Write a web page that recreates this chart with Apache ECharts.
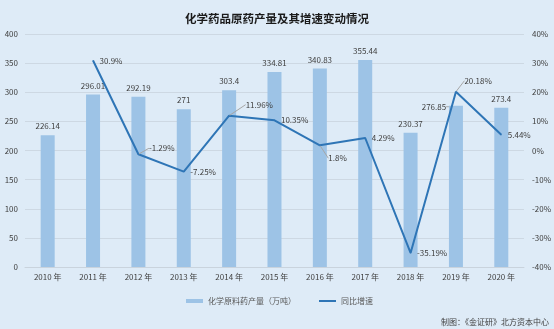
<!DOCTYPE html>
<html><head><meta charset="utf-8">
<script src="https://cdn.jsdelivr.net/npm/echarts@6/dist/echarts.min.js"></script>
<style>html,body{margin:0;padding:0;background:#deebf7;}#c{width:554px;height:329px;}</style>
</head><body><div id="c"></div>
<script>
var categories = ['2010 年','2011 年','2012 年','2013 年','2014 年','2015 年','2016 年','2017 年','2018 年','2019 年','2020 年'];
var output = [226.14, 296.01, 292.19, 271, 303.4, 334.81, 340.83, 355.44, 230.37, 276.85, 273.4];
var growth = [null, 30.9, -1.29, -7.25, 11.96, 10.35, 1.8, 4.29, -35.19, 20.18, 5.44];
var leftTicks = {min: 0, max: 400, interval: 50};
var rightTicks = {min: -40, max: 40, interval: 10};

var FF = 'Noto Sans CJK SC, Noto Sans, sans-serif';
var lineLayout = {2: {dx: 4, dy: -6}, 4: {dx: 10, dy: -11}, 6: {dx: 2, dy: 13}, 9: {dx: 2, dy: -11}};
var barLayout = {9: {dx: -22, dy: 10}};
var leaderLine = {show: true, lineStyle: {color: '#a6a6a6', width: 1}};

var barData = output.map(function (v, i) {
  var d = {value: v};
  if (barLayout[i]) d.labelLine = leaderLine;
  return d;
});
var lineData = growth.map(function (v, i) {
  var d = {value: v};
  if (lineLayout[i]) d.labelLine = leaderLine;
  return d;
});

var chart = echarts.init(document.getElementById('c'));
chart.setOption({
  backgroundColor: '#deebf7',
  animation: false,
  title: {text: '化学药品原药产量及其增速变动情况', left: 'center', top: 8,
    textStyle: {fontSize: 11.5, fontWeight: 'bold', color: '#1a1a1a', fontFamily: FF}},
  grid: {left: 25, right: 30, top: 34, bottom: 62},
  legend: [
    {left: 181, bottom: 19, itemWidth: 17, itemHeight: 4,
      textStyle: {fontSize: 8, color: '#595959', fontFamily: FF},
      data: [{name: '化学原料药产量（万吨）', icon: 'rect'}]},
    {left: 314, bottom: 19, itemWidth: 17, itemHeight: 2,
      textStyle: {fontSize: 8, color: '#595959', fontFamily: FF},
      data: [{name: '同比增速', icon: 'rect'}]}
  ],
  graphic: [{type: 'text', right: 5, bottom: 3,
    style: {text: '制图：《金证研》北方资本中心', fontSize: 8, fill: '#404040', fontFamily: FF}}],
  xAxis: {type: 'category', data: categories,
    axisLine: {lineStyle: {color: '#c9d3dd'}}, axisTick: {show: false},
    axisLabel: {fontSize: 8, color: '#404040', margin: 6, fontFamily: FF}},
  yAxis: [
    {type: 'value', min: leftTicks.min, max: leftTicks.max, interval: leftTicks.interval,
      axisLabel: {fontSize: 8, color: '#404040', margin: 7, fontFamily: FF},
      splitLine: {lineStyle: {color: '#cdd8e3'}}, axisLine: {show: false}, axisTick: {show: false}},
    {type: 'value', min: rightTicks.min, max: rightTicks.max, interval: rightTicks.interval,
      axisLabel: {fontSize: 8, color: '#404040', margin: 8, formatter: '{value}%', fontFamily: FF},
      splitLine: {show: false}, axisLine: {show: false}, axisTick: {show: false}}
  ],
  series: [
    {name: '化学原料药产量（万吨）', type: 'bar', data: barData, barWidth: 14,
      itemStyle: {color: '#9dc3e6'},
      label: {show: true, position: 'top', distance: 5, fontSize: 8, color: '#404040', fontFamily: FF},
      labelLayout: function (p) {
        var l = barLayout[p.dataIndex];
        return l ? {dx: l.dx, dy: l.dy} : {};
      }},
    {name: '同比增速', type: 'line', yAxisIndex: 1, data: lineData,
      symbol: 'circle', symbolSize: 1, showSymbol: true,
      lineStyle: {color: '#2e75b6', width: 2}, itemStyle: {color: '#2e75b6'},
      label: {show: true, position: 'right', distance: 6, fontSize: 8, color: '#404040',
        formatter: function (p) { return p.value + '%'; }, fontFamily: FF},
      labelLayout: function (p) {
        var l = lineLayout[p.dataIndex];
        return l ? {dx: l.dx, dy: l.dy} : {};
      }}
  ]
});
</script></body></html>
